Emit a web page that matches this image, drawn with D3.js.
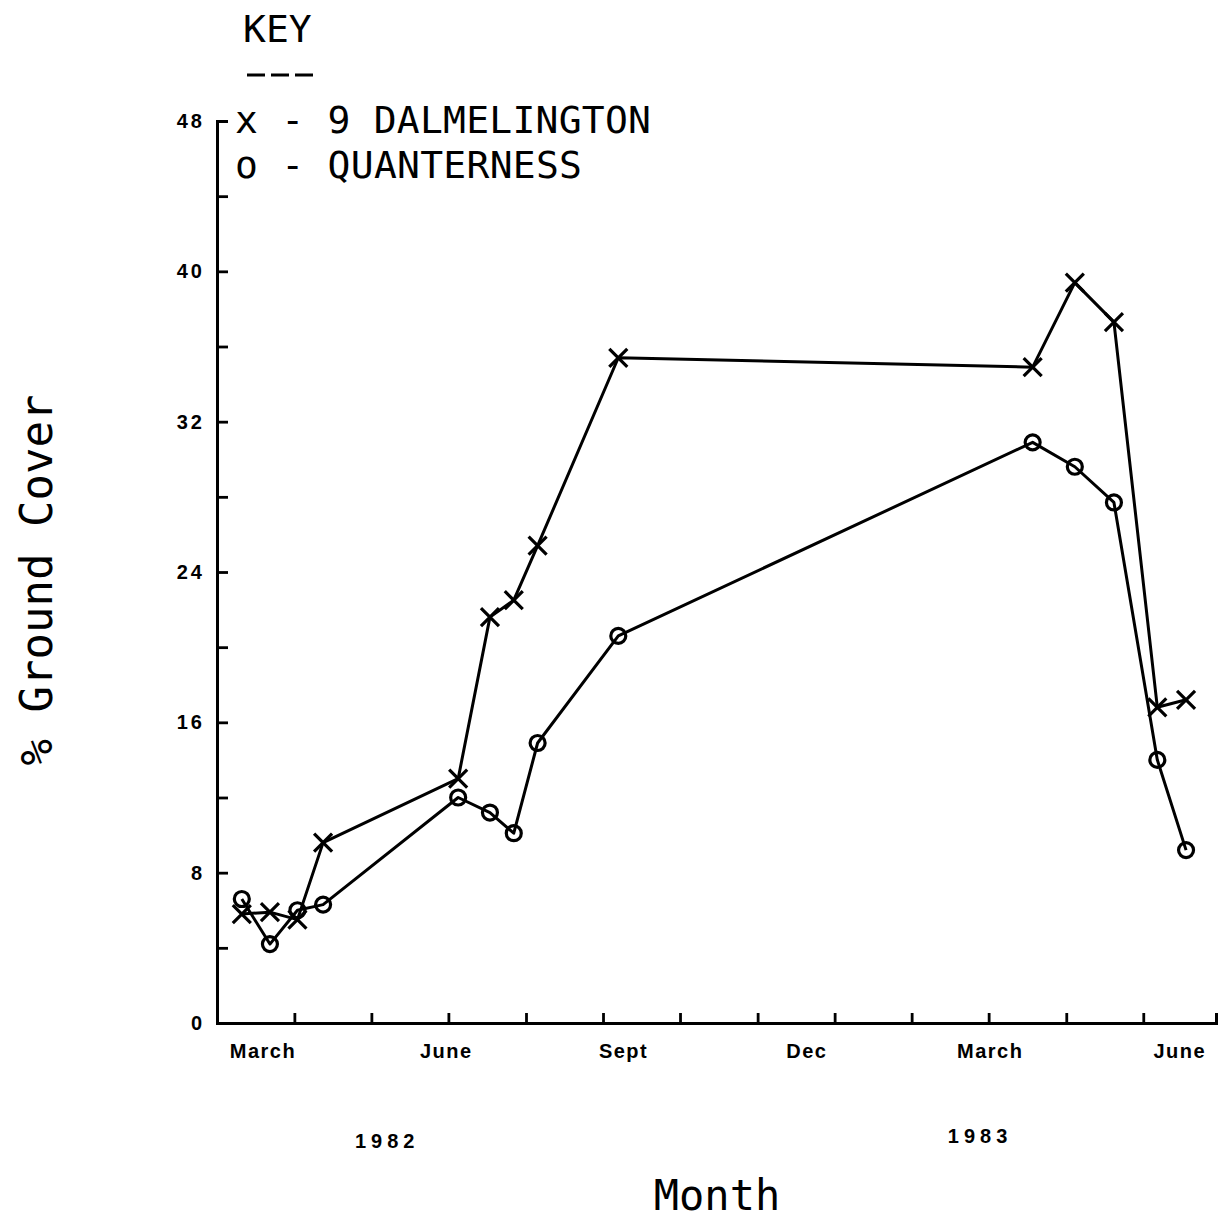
<!DOCTYPE html>
<html>
<head>
<meta charset="utf-8">
<script src="https://cdn.jsdelivr.net/npm/d3@7"></script>
<style>
  html, body { margin: 0; padding: 0; background: #fff; }
  svg { display: block; }
</style>
</head>
<body>
<svg id="chart" width="1219" height="1220"></svg>
<script>
// Sampling dates, in months counted from mid-March 1982
const sampleMonths = [-0.33, 0.13, 0.58, 1.0, 3.21, 3.73, 4.12, 4.51, 5.83, 12.61, 13.30, 13.94, 14.65, 15.12];

// % ground cover for each site
const dalmelington = [5.8, 5.9, 5.5, 9.6, 13.0, 21.6, 22.5, 25.4, 35.4, 34.9, 39.4, 37.3, 16.8, 17.2];
const quanterness  = [6.6, 4.2, 6.0, 6.3, 12.0, 11.2, 10.1, 14.9, 20.6, 30.9, 29.6, 27.7, 14.0, 9.2];

// Axis annotations
const yTicks = [0, 4, 8, 12, 16, 20, 24, 28, 32, 36, 40, 44, 48];
const xTicks = [0.53, 1.79, 3.05, 4.32, 5.58, 6.84, 8.11, 9.37, 10.63, 11.89, 13.16, 14.42];
const monthNames = ["March", "June", "Sept", "Dec", "March", "June"];
const monthAt = [0, 3, 5.9, 8.9, 11.9, 15];
const years = ["1982", "1983"];
const yearAt = [2.0, 11.7];

const svg = d3.select("#chart");
svg.append("rect").attr("width", 1219).attr("height", 1220).attr("fill", "#fff");

const x = d3.scaleLinear().domain([-0.736, 15.61]).range([217, 1216]);
const y = d3.scaleLinear().domain([0, 48]).range([1023, 121]);

// Axes: ticks point into the plot
const xAxis = d3.axisBottom(x)
  .tickValues(xTicks)
  .tickSizeInner(-10)
  .tickSizeOuter(-10)
  .tickFormat("");
const gx = svg.append("g").attr("transform", `translate(0,${y(0)})`).call(xAxis);

const yAxis = d3.axisLeft(y)
  .tickValues(yTicks)
  .tickSizeInner(-11)
  .tickSizeOuter(-11)
  .tickPadding(15)
  .tickFormat(d => d % 8 === 0 ? d : "");
const gy = svg.append("g").attr("transform", `translate(${x.range()[0]},0)`).call(yAxis);

[gx, gy].forEach(g => {
  g.select(".domain").attr("stroke", "#000").attr("stroke-width", 3).attr("fill", "none");
  g.selectAll(".tick line").attr("stroke", "#000").attr("stroke-width", 2.8);
});
gy.selectAll(".tick text")
  .attr("font-family", "'Liberation Sans', Arial, sans-serif")
  .attr("font-weight", "bold")
  .attr("font-size", 20)
  .attr("letter-spacing", 3)
  .attr("dx", 3)
  .attr("fill", "#000");

// Month and year labels under the axis
const boldLabel = sel => sel
  .attr("font-family", "'Liberation Sans', Arial, sans-serif")
  .attr("font-weight", "bold")
  .attr("text-anchor", "middle")
  .attr("fill", "#000");

svg.append("g").selectAll("text").data(monthNames).join("text")
  .call(boldLabel)
  .attr("x", (d, i) => x(monthAt[i]) + 1)
  .attr("y", 1058)
  .attr("font-size", 20)
  .attr("letter-spacing", 1.5)
  .text(d => d);

svg.append("g").selectAll("text").data(years).join("text")
  .call(boldLabel)
  .attr("x", (d, i) => x(yearAt[i]) + 3)
  .attr("y", (d, i) => i === 0 ? 1148 : 1143)
  .attr("font-size", 20)
  .attr("letter-spacing", 5)
  .text(d => d);

// Axis titles in the plotter lettering
const plotterFont = "'DejaVu Sans Mono', monospace";
svg.append("text")
  .attr("transform", `translate(52,${580}) rotate(-90)`)
  .attr("text-anchor", "middle")
  .attr("font-family", plotterFont)
  .attr("font-size", 44)
  .attr("fill", "#000")
  .text("% Ground Cover");

svg.append("text")
  .attr("x", 717).attr("y", 1210)
  .attr("text-anchor", "middle")
  .attr("font-family", plotterFont)
  .attr("font-size", 42)
  .attr("fill", "#000")
  .text("Month");

// Series
const series = [
  { name: "9 DALMELINGTON", values: dalmelington, marker: "cross" },
  { name: "QUANTERNESS", values: quanterness, marker: "circle" }
];

const line = d3.line().x(d => x(d[0])).y(d => y(d[1]));

series.forEach(s => {
  const pts = sampleMonths.map((m, i) => [m, s.values[i]]);
  svg.append("path")
    .attr("d", line(pts))
    .attr("fill", "none")
    .attr("stroke", "#000")
    .attr("stroke-width", 3)
    .attr("stroke-linejoin", "round");

  const g = svg.append("g");
  if (s.marker === "cross") {
    const r = 9;
    g.selectAll("path").data(pts).join("path")
      .attr("d", d => {
        const cx = x(d[0]), cy = y(d[1]);
        return `M${cx - r},${cy - r}L${cx + r},${cy + r}M${cx - r},${cy + r}L${cx + r},${cy - r}`;
      })
      .attr("stroke", "#000")
      .attr("stroke-width", 3.2)
      .attr("fill", "none");
  } else {
    g.selectAll("circle").data(pts).join("circle")
      .attr("cx", d => x(d[0]))
      .attr("cy", d => y(d[1]))
      .attr("r", 7.5)
      .attr("fill", "none")
      .attr("stroke", "#000")
      .attr("stroke-width", 3.2);
  }
});

// Key
const key = svg.append("g")
  .attr("font-family", plotterFont)
  .attr("font-size", 38)
  .attr("fill", "#000");
key.append("text").attr("x", 243).attr("y", 42).text("KEY");
key.append("line")
  .attr("x1", 247).attr("x2", 313)
  .attr("y1", 75).attr("y2", 75)
  .attr("stroke", "#000").attr("stroke-width", 3)
  .attr("stroke-dasharray", "18,6");
key.append("text").attr("x", 235).attr("y", 133)
  .attr("textLength", 416).attr("lengthAdjust", "spacing")
  .text("x - " + series[0].name);
key.append("text").attr("x", 235).attr("y", 178)
  .attr("textLength", 347).attr("lengthAdjust", "spacing")
  .text("o - " + series[1].name);
</script>
</body>
</html>
